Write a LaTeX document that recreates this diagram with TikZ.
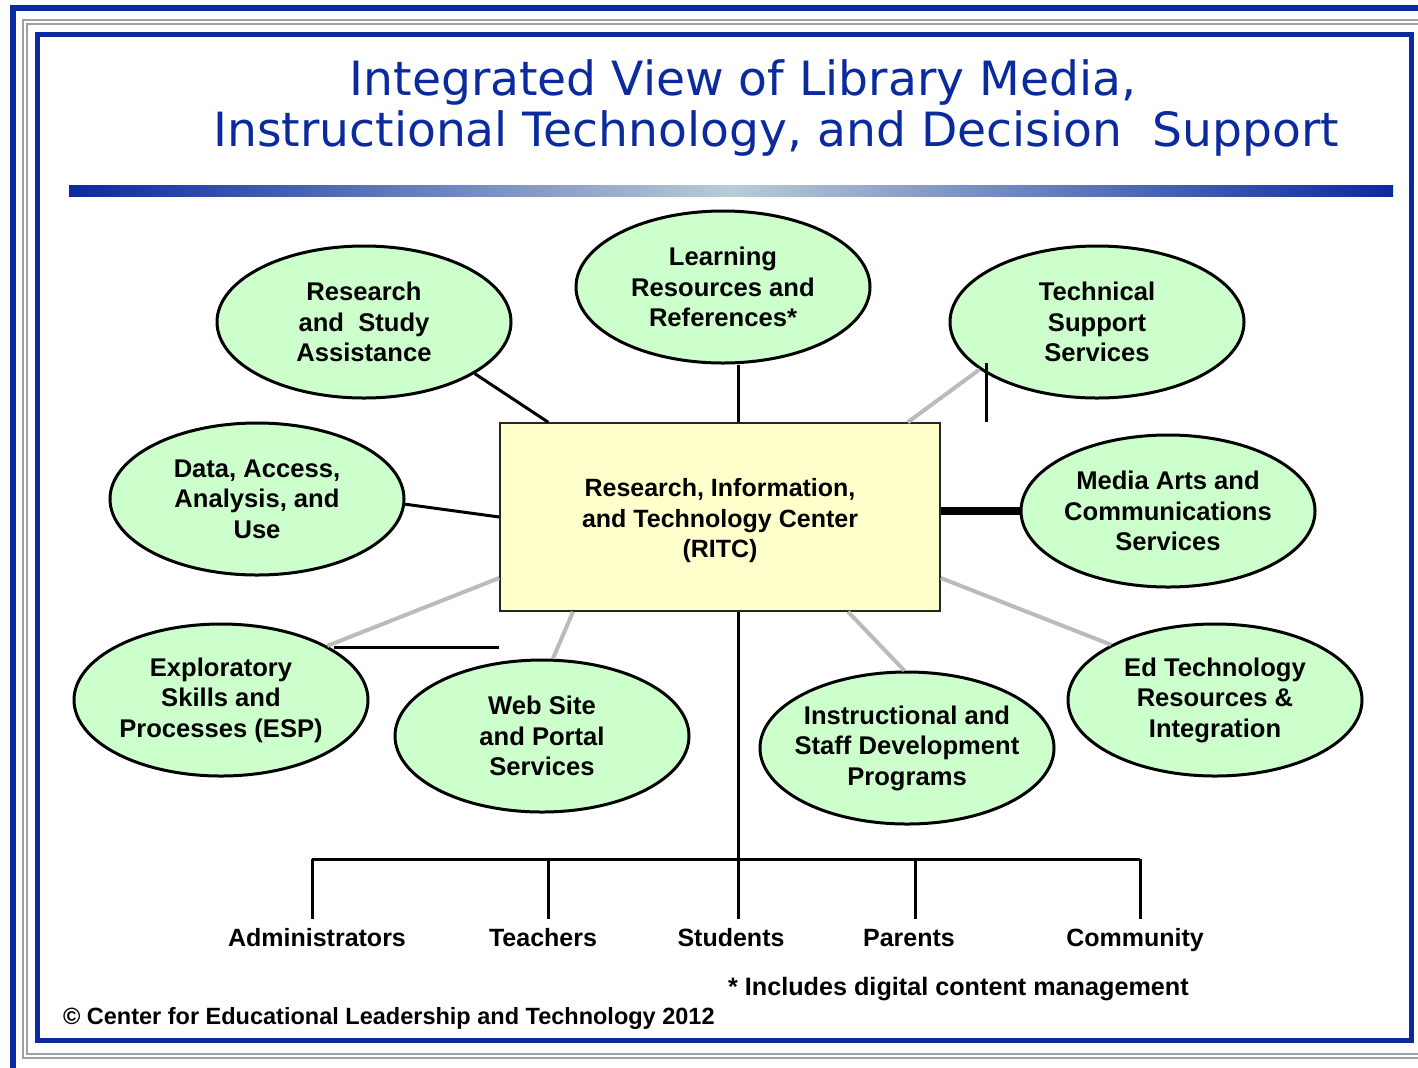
\documentclass[tikz,border=0pt]{standalone}
\usepackage{fontspec}
\setmainfont{Liberation Sans}
\newfontfamily\ttlfont{DejaVu Sans}
\usetikzlibrary{shapes.geometric}
\definecolor{ttlblue}{HTML}{0A2A9E}
\definecolor{barmid}{HTML}{BACBD6}
\definecolor{areagreen}{HTML}{CCFFCC}
\definecolor{hubyellow}{HTML}{FFFFCC}
\definecolor{framegrey}{HTML}{A0A0A0}
\definecolor{feedgrey}{HTML}{BBBBBB}
\tikzset{
	area/.style={ellipse, draw=black, line width=1.5pt, fill=areagreen, minimum width=147pt, minimum height=76pt, inner sep=0pt, inner xsep=-12pt, align=center, font=\bfseries\fontsize{12.8}{15.25}\selectfont},
	hub/.style={draw=black!85, line width=0.75pt, fill=hubyellow, minimum width=220pt, minimum height=94pt, inner sep=0pt, align=center, font=\bfseries\fontsize{12.5}{15.25}\selectfont},
	link/.style={line width=1.5pt, color=black},
	feed/.style={line width=2pt, color=feedgrey},
	group/.style={anchor=base, text height=9.2pt, text depth=2.5pt, inner sep=4pt, font=\bfseries\fontsize{12.5}{15}\selectfont},
	ttl/.style={anchor=base, text=ttlblue, font=\ttlfont\fontsize{23.6}{28}\selectfont}
}

\begin{document}
\begin{tikzpicture}[x=0.5pt, y=-0.5pt]
			%%%%% START %%%%%
			\useasboundingbox (0,0) rectangle (1418,1067);
			
			\draw[line width=3pt, color=ttlblue] (12.5,1090) -- (12.5,8) -- (1440,8);
			\draw[line width=1pt, color=framegrey] (23,20) rectangle (1440,1058);
			\draw[line width=1pt, color=framegrey] (27,24) rectangle (1440,1054);
			\draw[line width=2.5pt, color=ttlblue] (37.5,34.5) rectangle (1411,1040.5);
			
			\node[ttl] (ttla) at (743,95) {Integrated View of Library Media,};
			\node[ttl] (ttlb) at (776,146) {Instructional Technology, and Decision\ \ Support};
			\shade[left color=ttlblue, right color=ttlblue, middle color=barmid] (69,185) rectangle (1393,196);
			
			\node[hub] (ritc) at (720,517) {\rule{0pt}{13pt}Research, Information,\\and Technology Center\\(RITC)};
			
			\node[area] (rsa) at (364,322) {Research\\and~~Study\\Assistance};
			\node[area] (lrr) at (723,287) {Learning\\Resources and\\References*};
			\node[area] (tss) at (1097,322) {Technical\\Support\\Services};
			\node[area] (daa) at (257,499) {Data, Access,\\Analysis, and\\Use};
			\node[area] (mac) at (1168,511) {Media Arts and\\Communications\\Services};
			\node[area] (esp) at (221,700) {Exploratory\\Skills and\\Processes (ESP)};
			\node[area] (wps) at (542,736) {Web Site\\and Portal\\Services};
			\node[area] (isd) at (907,748) {Instructional and\\Staff Development\\Programs};
			\node[area] (etr) at (1215,700) {Ed Technology\\Resources \&\\Integration};
			
			\coordinate (ntop) at ([xshift=9pt]ritc.north);
			\coordinate (nbot) at ([xshift=9pt]ritc.south);
			\coordinate (tick) at (986,422);
			
			\draw[link] (rsa.-25) -- ([xshift=24.5pt]ritc.north west);
			\draw[link] (ntop) -- (ntop |- lrr.south);
			\draw[feed] ([xshift=-16.5pt]ritc.north east) -- (tss.202);
			\draw[link] (tick) -- ++(0,-59);
			\draw[link] (daa.-2) -- (ritc.west);
			\draw[line width=4pt] (mac.west -| ritc.east) -- (mac.west);
			\draw[feed] ([yshift=-30.5pt]ritc.east) -- (etr.152);
			\draw[feed] ([xshift=64pt]ritc.south) -- (isd.92);
			\draw[feed] ([xshift=-73.5pt]ritc.south) -- (wps.82);
			\draw[feed] ([yshift=-30.5pt]ritc.west) -- (esp.27);
			\draw[link] ([yshift=-65pt]ritc.west) -- ++(-165,0);
			
			\node[group] (adm) at (317,946) {Administrators};
			\node[group] (tea) at (543,946) {Teachers};
			\node[group] (stu) at (731,946) {Students};
			\node[group] (par) at (909,946) {Parents};
			\node[group] (com) at (1135,946) {Community};
			
			\coordinate (tadm) at (312,859);
			\coordinate (ttea) at (548,859);
			\coordinate (tpar) at (915,859);
			\coordinate (tcom) at (1140,859);
			
			\draw[link] (tadm) -- (tcom);
			\draw[link] (nbot) -- (nbot |- stu.north);
			\draw[link] (tadm) -- (tadm |- adm.north);
			\draw[link] (ttea) -- (ttea |- tea.north);
			\draw[link] (tpar) -- (tpar |- par.north);
			\draw[link] (tcom) -- (tcom |- com.north);
			
			\node[anchor=base west, font=\bfseries\fontsize{12.6}{15}\selectfont] (note) at (721,995) {* Includes digital content management};
			\node[anchor=base west, font=\bfseries\fontsize{11.75}{14}\selectfont] (copy) at (56,1024) {\textcopyright\ Center for Educational Leadership and Technology 2012};
			
			%%%%% END %%%%%
\end{tikzpicture}
\end{document}
